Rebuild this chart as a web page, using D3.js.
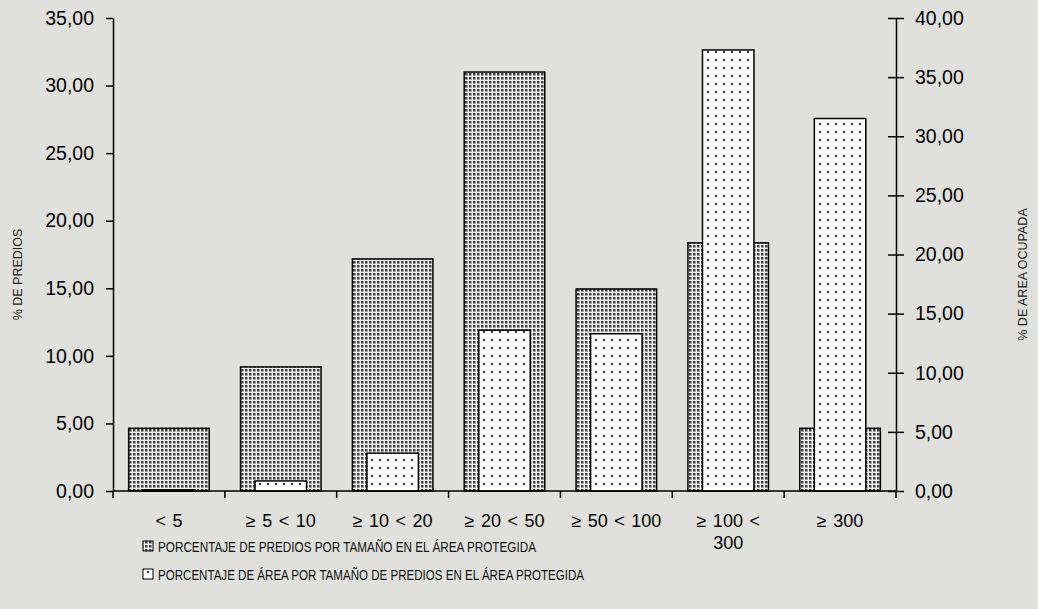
<!DOCTYPE html>
<html>
<head>
<meta charset="utf-8">
<script src="https://cdn.jsdelivr.net/npm/d3@7"></script>
<style>
  html, body { margin: 0; padding: 0; background: #e0e0dc; }
  svg { display: block; font-family: "Liberation Sans", Arial, sans-serif; }
</style>
</head>
<body>
<svg id="chart" width="1038" height="609"></svg>
<script>
// ---- data ----
const categories = ["< 5", "≥ 5 < 10", "≥ 10 < 20", "≥ 20 < 50", "≥ 50 < 100", "≥ 100 < 300", "≥ 300"];
const predios = [4.64, 9.18, 17.17, 31.0, 14.95, 18.36, 4.64];      // left axis
const area = [0.1, 0.85, 3.2, 13.6, 13.3, 37.3, 31.5];              // right axis
const leftTicks = [0, 5, 10, 15, 20, 25, 30, 35];
const rightTicks = [0, 5, 10, 15, 20, 25, 30, 35, 40];
const legendLabels = [
  "PORCENTAJE DE PREDIOS POR TAMAÑO EN EL ÁREA PROTEGIDA",
  "PORCENTAJE DE ÁREA POR TAMAÑO DE PREDIOS EN EL ÁREA PROTEGIDA"
];
const leftTitle = "% DE PREDIOS";
const rightTitle = "% DE AREA OCUPADA";

// ---- layout ----
const svg = d3.select("#chart");
const x0 = 113, x1 = 896, yTop = 18, yBot = 491;
const fmt = v => d3.format(".2f")(v).replace(".", ",");

const defs = svg.append("defs");
// dense pattern (series 1)
const p1 = defs.append("pattern").attr("id", "dense").attr("patternUnits", "userSpaceOnUse")
  .attr("width", 4).attr("height", 4);
p1.append("rect").attr("width", 4).attr("height", 4).attr("fill", "#f2f2f2");
p1.append("rect").attr("x", 1).attr("y", 1).attr("width", 3).attr("height", 3).attr("fill", "#a4a4a4");
p1.append("rect").attr("x", 1).attr("y", 1).attr("width", 2).attr("height", 2).attr("fill", "#3c3c3c");
// sparse pattern (series 2)
const p2 = defs.append("pattern").attr("id", "sparse").attr("patternUnits", "userSpaceOnUse")
  .attr("width", 8).attr("height", 8);
p2.append("rect").attr("width", 8).attr("height", 8).attr("fill", "#ffffff");
p2.append("rect").attr("x", 3).attr("y", 3).attr("width", 2).attr("height", 2).attr("fill", "#3a3a3a");

const x = d3.scaleBand().domain(categories).range([x0, x1]).paddingInner(0).paddingOuter(0);
const yL = d3.scaleLinear().domain([0, 35]).range([yBot, yTop]);
const yR = d3.scaleLinear().domain([0, 40]).range([yBot, yTop]);

// bars series 1
const w1 = x.bandwidth() * 0.72;
svg.append("g").selectAll("rect").data(categories).join("rect")
  .attr("x", d => x(d) + x.bandwidth() / 2 - w1 / 2)
  .attr("y", (d, i) => yL(predios[i]))
  .attr("width", w1)
  .attr("height", (d, i) => yBot - yL(predios[i]))
  .attr("fill", "url(#dense)").attr("stroke", "#000").attr("stroke-width", 1.5);

// bars series 2
const w2 = x.bandwidth() * 0.46;
svg.append("g").selectAll("rect").data(categories).join("rect")
  .attr("x", d => x(d) + x.bandwidth() / 2 - w2 / 2)
  .attr("y", (d, i) => yR(area[i]))
  .attr("width", w2)
  .attr("height", (d, i) => yBot - yR(area[i]))
  .attr("fill", "url(#sparse)").attr("stroke", "#000").attr("stroke-width", 1.5);

// left axis
const gL = svg.append("g").attr("transform", `translate(${x0},0)`)
  .call(d3.axisLeft(yL).tickValues(leftTicks).tickFormat(fmt).tickSize(7).tickSizeOuter(0).tickPadding(12));
gL.select(".domain").attr("stroke", "#000").attr("stroke-width", 1.5);
gL.selectAll(".tick line").attr("stroke", "#000").attr("stroke-width", 1.5);
gL.selectAll("text").attr("font-size", 19.5).attr("fill", "#000")
  .attr("font-family", "Liberation Sans, Arial, sans-serif");

// right axis
const gR = svg.append("g").attr("transform", `translate(${x1},0)`)
  .call(d3.axisRight(yR).tickValues(rightTicks).tickFormat(fmt).tickSize(8).tickSizeOuter(0).tickPadding(11));
gR.select(".domain").attr("stroke", "#000").attr("stroke-width", 1.5);
gR.selectAll(".tick line").attr("stroke", "#000").attr("stroke-width", 1.5).attr("x1", -8);
gR.selectAll("text").attr("font-size", 19.5).attr("fill", "#000")
  .attr("font-family", "Liberation Sans, Arial, sans-serif");

// x axis
const gX = svg.append("g").attr("transform", `translate(0,${yBot})`);
gX.append("line").attr("x1", x0).attr("x2", x1).attr("y1", 0).attr("y2", 0)
  .attr("stroke", "#000").attr("stroke-width", 1.5);
const bounds = categories.map(d => x(d)).concat([x1]);
gX.selectAll("line.tk").data(bounds).join("line").attr("class", "tk")
  .attr("x1", d => d).attr("x2", d => d).attr("y1", 0).attr("y2", 7)
  .attr("stroke", "#000").attr("stroke-width", 1.5);
const xl = gX.selectAll("text.xl").data(categories).join("text").attr("class", "xl")
  .attr("x", d => x(d) + x.bandwidth() / 2)
  .attr("y", 36)
  .attr("text-anchor", "middle").attr("font-size", 18).attr("fill", "#000")
  .attr("word-spacing", 1.5);
xl.each(function(d) {
  const t = d3.select(this);
  if (d === "≥ 100 < 300") {
    t.append("tspan").attr("x", x(d) + x.bandwidth() / 2).attr("dy", 0).text("≥ 100 <");
    t.append("tspan").attr("x", x(d) + x.bandwidth() / 2).attr("dy", 22).text("300");
  } else {
    t.text(d);
  }
});

// axis titles
svg.append("text").attr("transform", `translate(22,${(yTop + yBot) / 2 + 20}) rotate(-90)`)
  .attr("text-anchor", "middle").attr("font-size", 12.5).attr("fill", "#222").text(leftTitle);
svg.append("text").attr("transform", `translate(1027,${(yTop + yBot) / 2 + 20}) rotate(-90)`)
  .attr("text-anchor", "middle").attr("font-size", 12.5).attr("fill", "#222").text(rightTitle);

// legend
const lg = svg.append("g");
const legFills = ["url(#dense)", "url(#sparse)"];
const legWidths = [378, 426];
legendLabels.forEach((lab, i) => {
  const yy = 546 + i * 28;
  lg.append("rect").attr("x", 143).attr("y", yy - 5).attr("width", 10).attr("height", 10)
    .attr("fill", legFills[i]).attr("stroke", "#000").attr("stroke-width", 1);
  lg.append("text").attr("x", 158).attr("y", yy + 5.5).attr("font-size", 14.5).attr("fill", "#111")
    .attr("textLength", legWidths[i]).attr("lengthAdjust", "spacingAndGlyphs").text(lab);
});
</script>
</body>
</html>
